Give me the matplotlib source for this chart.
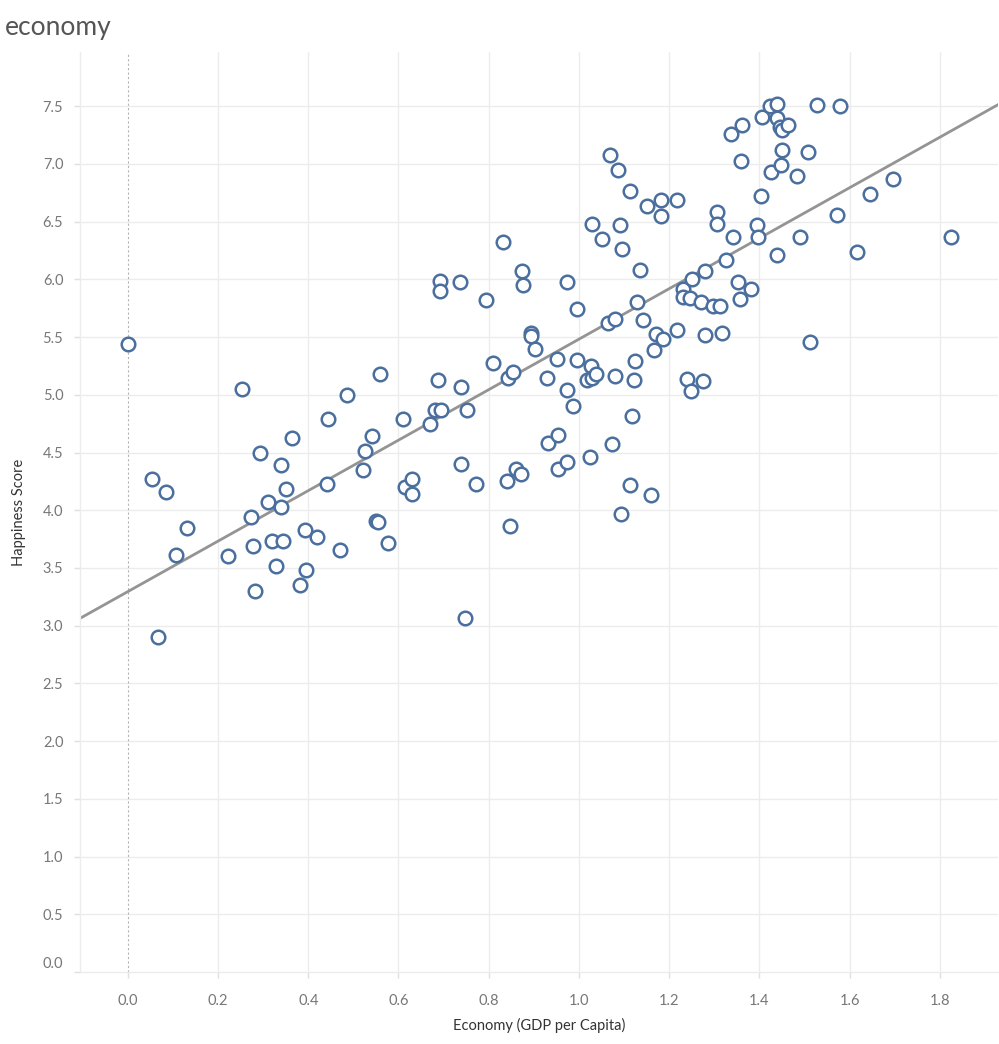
import numpy as np
import matplotlib

matplotlib.use("Agg")
import matplotlib.pyplot as plt
import matplotlib.transforms as mtransforms

# economy (GDP per capita) and happiness score, one pair per country
economy = [
    0.000, 0.054, 0.085, 0.067, 0.107, 0.131, 0.222, 0.253, 0.273, 0.278,
    0.282, 0.293, 0.311, 0.320, 0.329, 0.340, 0.340, 0.344, 0.351, 0.364,
    0.382, 0.393, 0.395, 0.419, 0.442, 0.444, 0.470, 0.486, 0.521, 0.526,
    0.541, 0.550, 0.555, 0.559, 0.577, 0.610, 0.614, 0.630, 0.630, 0.670,
    0.681, 0.694, 0.688, 0.692, 0.692, 0.736, 0.739, 0.739, 0.747, 0.752,
    0.772, 0.794, 0.809, 0.832, 0.840, 0.843, 0.847, 0.854, 0.860, 0.872,
    0.874, 0.876, 0.894, 0.894, 0.903, 0.929, 0.931, 0.951, 0.953, 0.953,
    0.973, 0.973, 0.973, 0.987, 0.996, 0.996, 1.018, 1.024, 1.027, 1.029,
    1.038, 1.029, 1.051, 1.064, 1.069, 1.073, 1.080, 1.080, 1.086, 1.091,
    1.093, 1.095, 1.113, 1.113, 1.117, 1.122, 1.124, 1.129, 1.135, 1.142,
    1.151, 1.160, 1.166, 1.171, 1.182, 1.182, 1.186, 1.217, 1.217, 1.230,
    1.230, 1.239, 1.246, 1.250, 1.248, 1.270, 1.275, 1.279, 1.279, 1.297,
    1.306, 1.306, 1.312, 1.317, 1.326, 1.337, 1.341, 1.352, 1.357, 1.359,
    1.361, 1.381, 1.394, 1.397, 1.403, 1.405, 1.423, 1.425, 1.439, 1.439,
    1.439, 1.445, 1.450, 1.448, 1.450, 1.463, 1.483, 1.490, 1.507, 1.512,
    1.527, 1.572, 1.578, 1.616, 1.645, 1.696, 1.824,
]
happiness = [
    5.44, 4.27, 4.16, 2.90, 3.61, 3.85, 3.60, 5.05, 3.94, 3.69,
    3.30, 4.50, 4.07, 3.73, 3.52, 4.39, 4.03, 3.73, 4.18, 4.63,
    3.35, 3.83, 3.48, 3.77, 4.23, 4.79, 3.66, 5.00, 4.35, 4.51,
    4.64, 3.91, 3.90, 5.18, 3.72, 4.79, 4.20, 4.27, 4.14, 4.75,
    4.87, 4.87, 5.13, 5.99, 5.90, 5.98, 5.07, 4.40, 3.07, 4.87,
    4.23, 5.82, 5.28, 6.32, 4.25, 5.15, 3.86, 5.20, 4.36, 4.31,
    6.07, 5.95, 5.54, 5.51, 5.40, 5.15, 4.58, 5.31, 4.65, 4.36,
    5.98, 5.04, 4.42, 4.90, 5.74, 5.30, 5.13, 4.46, 5.25, 5.15,
    5.18, 6.48, 6.35, 5.62, 7.08, 4.57, 5.66, 5.16, 6.95, 6.47,
    3.97, 6.26, 6.77, 4.22, 4.82, 5.13, 5.29, 5.80, 6.08, 5.65,
    6.64, 4.13, 5.39, 5.53, 6.69, 6.55, 5.48, 6.69, 5.56, 5.92,
    5.85, 5.14, 5.84, 6.00, 5.03, 5.80, 5.12, 5.52, 6.07, 5.77,
    6.58, 6.48, 5.77, 5.54, 6.17, 7.26, 6.37, 5.98, 5.83, 7.03,
    7.34, 5.92, 6.47, 6.37, 6.72, 7.41, 7.50, 6.93, 7.52, 7.40,
    6.21, 7.32, 7.29, 6.99, 7.12, 7.34, 6.90, 6.37, 7.10, 5.46,
    7.51, 6.56, 7.50, 6.24, 6.74, 6.87, 6.37,
]

x_ticks = [0.0, 0.2, 0.4, 0.6, 0.8, 1.0, 1.2, 1.4, 1.6, 1.8]
y_ticks = [0.0, 0.5, 1.0, 1.5, 2.0, 2.5, 3.0, 3.5, 4.0, 4.5, 5.0, 5.5, 6.0, 6.5, 7.0, 7.5]

plt.rcParams["font.family"] = ["Lato", "DejaVu Sans"]

fig = plt.figure(figsize=(9.99, 10.44), dpi=100)
ax = fig.add_axes([80 / 999, 72 / 1044, 918 / 999, 920 / 1044])

x_min, x_max = -0.106, 1.929
y_min, y_max = 0.0, 7.97

grid_col = "#ececec"
for t in x_ticks[1:]:
    ax.axvline(t, color=grid_col, lw=1.0, zorder=0)
for t in y_ticks[1:]:
    ax.axhline(t, color=grid_col, lw=1.0, zorder=0)
ax.axvline(0, color="#b5b5b5", lw=0.8, ls=(0, (2, 2)), zorder=1)

# linear trend line
slope, intercept = np.polyfit(economy, happiness, 1)
xs = np.array([x_min, x_max])
ax.plot(xs, intercept + slope * xs, color="#949494", lw=2.0, zorder=2)

ax.scatter(economy, happiness, s=95, facecolors="white", edgecolors="#4a6f9f",
           linewidths=1.8, zorder=3)

ax.set_xlim(x_min, x_max)
ax.set_ylim(y_min, y_max)
ax.set_xticks(x_ticks)
ax.set_yticks(y_ticks)
ax.set_xticklabels([f"{t:.1f}" for t in x_ticks])
ax.set_yticklabels([f"{t:.1f}" for t in y_ticks])
ax.tick_params(axis="both", colors="#e0e0e0", length=4, width=1,
               labelcolor="#777777", labelsize=10.5)
ax.tick_params(axis="x", pad=12)
ax.tick_params(axis="y", pad=8)

for side in ["top", "right"]:
    ax.spines[side].set_visible(False)
for side in ["left", "bottom"]:
    ax.spines[side].set_color("#ececec")
    ax.spines[side].set_linewidth(1.0)

# Tableau lifts the bottom label so it stays inside the pane
zero_label = ax.get_yticklabels()[0]
zero_label.set_transform(zero_label.get_transform()
                         + mtransforms.ScaledTranslation(0, 0.1, fig.dpi_scale_trans))

ax.set_xlabel("Economy (GDP per Capita)", fontsize=10.5, color="#333333", labelpad=7)
ax.set_ylabel("Happiness Score", fontsize=10.5, color="#333333", labelpad=12)

fig.text(5 / 999, 1 - 27 / 1044, "economy", fontsize=19, color="#555555",
         va="center", ha="left")

fig.savefig("out.png", dpi=100, facecolor="white")
